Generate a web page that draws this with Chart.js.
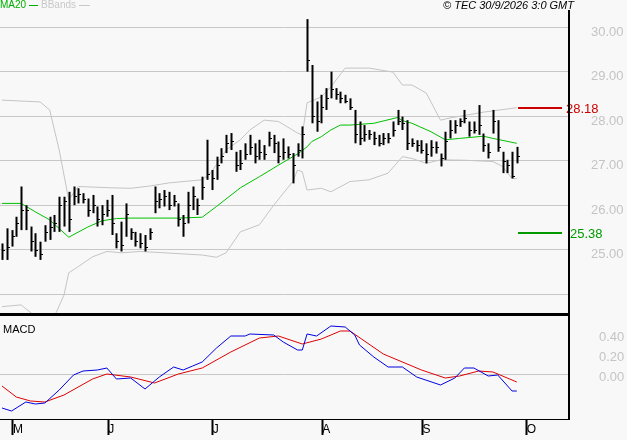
<!DOCTYPE html>
<html><head><meta charset="utf-8">
<script src="https://cdn.jsdelivr.net/npm/chart.js@4/dist/chart.umd.min.js"></script>
<style>
html,body{margin:0;padding:0;background:#f8f8f8;width:627px;height:440px;overflow:hidden;font-family:"Liberation Sans",Arial,sans-serif}
#c1{position:absolute;left:0;top:0}
#c2{position:absolute;left:0;top:316px}
.t{position:absolute;font-size:11px;white-space:nowrap}
</style></head><body>
<canvas id="c1" width="627" height="316"></canvas>
<canvas id="c2" width="627" height="124"></canvas>
<div class="t" style="left:0px;top:-1px;color:#00b000;font-size:10px">MA20 <span style="display:inline-block;width:9px;border-top:1px solid #00b000;vertical-align:middle"></span></div>
<div class="t" style="left:41px;top:-1px;color:#c8c8c8;font-size:10px">BBands <span style="display:inline-block;width:11px;border-top:1px solid #c8c8c8;vertical-align:middle"></span></div>
<div class="t" style="right:53px;top:-1px;color:#000;font-style:italic">© TEC 30/9/2026 3:0 GMT</div>
<div class="t" style="left:3px;top:323px;color:#000">MACD</div>
<script>
// prices in cents (labels shown as e.g. 28.18)
const highs=[2514,2548,2544,2574,2642,2600,2552,2537,2518,2555,2574,2578,2619,2619,2630,2642,2638,2627,2615,2623,2597,2600,2612,2623,2537,2563,2604,2548,2540,2537,2533,2548,2642,2627,2634,2630,2623,2604,2578,2630,2642,2615,2664,2747,2679,2709,2728,2758,2762,2720,2724,2739,2758,2739,2747,2735,2765,2758,2743,2750,2732,2717,2739,2777,3018,2915,2833,2848,2863,2900,2863,2855,2848,2840,2814,2788,2780,2769,2765,2758,2762,2762,2788,2814,2799,2791,2750,2746,2746,2739,2746,2743,2716,2765,2791,2791,2795,2814,2788,2788,2825,2761,2739,2814,2791,2720,2702,2720,2731];
const lows=[2477,2477,2507,2529,2544,2544,2496,2484,2477,2518,2522,2540,2540,2552,2540,2600,2604,2604,2574,2582,2552,2555,2574,2533,2503,2496,2529,2522,2507,2503,2496,2522,2582,2593,2597,2589,2597,2552,2529,2559,2589,2578,2612,2657,2634,2657,2694,2717,2724,2675,2679,2702,2713,2694,2702,2702,2732,2717,2694,2702,2705,2649,2709,2705,2900,2784,2765,2784,2814,2840,2837,2829,2829,2814,2739,2735,2743,2747,2735,2732,2735,2739,2754,2780,2769,2724,2731,2720,2716,2694,2709,2716,2687,2702,2750,2761,2776,2784,2754,2761,2758,2720,2705,2761,2720,2672,2672,2660,2694];
const closes=[2499,2505,2530,2560,2590,2590,2520,2500,2490,2540,2550,2560,2600,2610,2570,2620,2625,2615,2590,2600,2570,2580,2590,2560,2520,2510,2580,2540,2520,2515,2505,2540,2610,2615,2620,2600,2610,2570,2560,2600,2620,2600,2640,2670,2660,2690,2710,2740,2745,2690,2695,2715,2730,2710,2720,2715,2750,2740,2710,2720,2715,2690,2725,2760,2926,2800,2790,2820,2840,2860,2850,2840,2835,2820,2760,2750,2760,2760,2750,2740,2750,2750,2770,2790,2785,2740,2740,2735,2725,2715,2730,2730,2705,2745,2770,2780,2790,2795,2770,2770,2780,2735,2720,2790,2730,2700,2690,2665,2710];
const ma20Pts={0:2604,4:2604,7:2585,10:2567,14:2528,18:2551,21:2565,24:2570,27:2571,31:2571,37:2571,42:2573,45:2597,50:2639,54:2664,58:2690,62:2715,64:2731,65:2743,67:2754,69:2769,71:2780,73:2780,78:2784,83:2797,84:2790,86:2784,90:2765,93:2747,96:2750,101:2755,103:2750,108:2739};
const bbUpPts={0:2836,8:2832,10:2814,12:2724,14:2612,16:2642,23:2639,27:2638,31:2643,35:2650,42:2657,44:2675,47:2724,50:2747,52:2769,55:2791,58:2788,62:2762,63:2758,64:2830,67:2843,69:2866,72:2908,77:2908,82:2899,84:2870,86:2870,89:2852,92:2791,94:2796,101:2809,108:2819};
const bbLoPts={0:2372,4:2376,7:2350,11:2350,13:2398,14:2448,16:2462,19:2484,22:2496,25:2493,29:2496,34:2493,42:2488,45:2483,47:2493,50:2540,54:2556,57:2600,61:2653,62:2679,63:2675,64:2634,67:2638,69:2630,73:2653,77:2657,81:2672,84:2709,86:2705,89:2694,92:2702,97:2701,103:2698,105:2687,107:2660,108:2660};
const macdPts={0:-0.34,2:-0.37,5:-0.28,7:-0.30,9:-0.29,12:-0.16,15:-0.01,17:0.03,20:0.04,22:0.06,24:-0.05,27:-0.04,30:-0.15,33:-0.03,36:0.07,38:0.04,40:0.08,42:0.12,45:0.26,48:0.38,51:0.38,52:0.40,57:0.39,59:0.32,62:0.24,63:0.24,64:0.40,66:0.38,69:0.48,72:0.47,74:0.39,75:0.29,78:0.17,81:0.07,84:0.07,87:-0.03,92:-0.11,95:-0.04,97:0.06,99:0.06,102:-0.02,104:-0.01,107:-0.17,108:-0.17};
const signalPts={0:-0.12,3:-0.23,6:-0.27,9:-0.28,13:-0.21,19:-0.05,22:0.00,27:-0.03,32:-0.09,37:0.00,42:0.06,48:0.22,54:0.36,58:0.38,63:0.30,67:0.35,71:0.43,73:0.43,80:0.20,88:0.04,93:-0.04,96:-0.02,100:0.03,103:0.02,108:-0.08};
const monthPos=[2.3,22.3,44.2,67.2,88.2,110.1];
const monthLabels=['M','J','J','A','S','O'];
const priceTicks=[2400,2500,2600,2700,2800,2900,3000];
const macdTicks=[0,0.2,0.4];
const levels=[{v:2818,c:'#cc0000'},{v:2538,c:'#009900'}];

const N=closes.length;
const toSeries=o=>{const a=new Array(N).fill(null);for(const k in o)a[+k]=o[k];return a;};
const XMIN=-0.42,XMAX=118.95;
const fmt=v=>(v/100).toFixed(2);
const noPad=s=>{s.paddingTop=0;s.paddingBottom=0;s.paddingLeft=0;s.paddingRight=0;};

const ohlc={id:'ohlc',afterDatasetsDraw(ch){
  const c=ch.ctx,x=ch.scales.x,y=ch.scales.y;
  c.save();c.strokeStyle='#000';
  for(let i=0;i<N;i++){
    const px=Math.round(x.getPixelForValue(i))+0.5;
    c.lineWidth=2;c.beginPath();c.moveTo(px,y.getPixelForValue(highs[i]));c.lineTo(px,y.getPixelForValue(lows[i]));c.stroke();
    c.lineWidth=1;const cy=Math.round(y.getPixelForValue(closes[i]))+0.5;
    c.beginPath();c.moveTo(px,cy);c.lineTo(px+2.5,cy);c.stroke();
  }
  c.font='13px "Liberation Sans",Arial';c.textBaseline='middle';
  levels.forEach((l,k)=>{const py=Math.round(y.getPixelForValue(l.v));
    c.fillStyle=l.c;c.fillRect(518,py-1,44,2);
    c.fillText(fmt(l.v),k===0?566:570,py+1);});
  c.fillStyle='#000';c.fillRect(0,313,570,3);c.fillRect(568,10,2,306);
  c.restore();
}};
new Chart(document.getElementById('c1'),{type:'line',
 data:{datasets:[
  {data:toSeries(ma20Pts).map((v,i)=>({x:i,y:v})),borderColor:'#00c000',borderWidth:1,pointRadius:0,spanGaps:true},
  {data:toSeries(bbUpPts).map((v,i)=>({x:i,y:v})),borderColor:'#c4c4c4',borderWidth:1,pointRadius:0,spanGaps:true},
  {data:toSeries(bbLoPts).map((v,i)=>({x:i,y:v})),borderColor:'#c4c4c4',borderWidth:1,pointRadius:0,spanGaps:true}]},
 options:{responsive:false,animation:false,events:[],layout:{padding:{left:0,right:0,top:0,bottom:2}},
  plugins:{legend:{display:false},tooltip:{enabled:false}},
  scales:{x:{type:'linear',min:XMIN,max:XMAX,display:false},
   y:{position:'right',min:2355.5,max:3061,afterFit:s=>{s.width=58;noPad(s);},
    afterBuildTicks:s=>{s.ticks=priceTicks.map(v=>({value:v}))},
    border:{display:false},grid:{color:'#c8c8c8',drawTicks:false},
    ticks:{color:'#c4c4c4',font:{size:13,family:'"Liberation Sans",Arial'},padding:22,labelOffset:5,callback:v=>v===2400?'':fmt(v)}}}},
 plugins:[ohlc]});

const frame2={id:'f2',afterDraw(ch){const c=ch.ctx;c.save();c.fillStyle='#000';c.fillRect(568,0,2,104);c.fillRect(0,103,570,1);c.restore();}};
new Chart(document.getElementById('c2'),{type:'line',
 data:{datasets:[
  {data:toSeries(macdPts).map((v,i)=>({x:i,y:v})),borderColor:'#0000dd',borderWidth:1,pointRadius:0,spanGaps:true},
  {data:toSeries(signalPts).map((v,i)=>({x:i,y:v})),borderColor:'#dd0000',borderWidth:1,pointRadius:0,spanGaps:true}]},
 options:{responsive:false,animation:false,events:[],layout:{padding:0},
  plugins:{legend:{display:false},tooltip:{enabled:false}},
  scales:{x:{type:'linear',min:XMIN,max:XMAX,afterFit:s=>{s.height=21;noPad(s);},
    afterBuildTicks:s=>{s.ticks=monthPos.map(v=>({value:v}))},
    border:{display:false},grid:{drawOnChartArea:false,drawTicks:true,tickLength:16,color:'#000',tickWidth:2},
    ticks:{color:'#000',align:'start',padding:-13,font:{size:12,family:'"Liberation Sans",Arial'},maxRotation:0,autoSkip:false,
     callback:(v,i)=>monthLabels[i]}},
   y:{position:'right',min:-0.45,max:0.58,afterFit:s=>{s.width=58;noPad(s);},
    afterBuildTicks:s=>{s.ticks=macdTicks.map(v=>({value:v}))},
    border:{display:false},grid:{color:c=>c.tick&&c.tick.value===0?'#c8c8c8':'rgba(0,0,0,0)',drawTicks:false},
    ticks:{color:'#c4c4c4',font:{size:13,family:'"Liberation Sans",Arial'},padding:30,labelOffset:3,callback:v=>v.toFixed(2)}}}},
 plugins:[frame2]});
</script></body></html>
